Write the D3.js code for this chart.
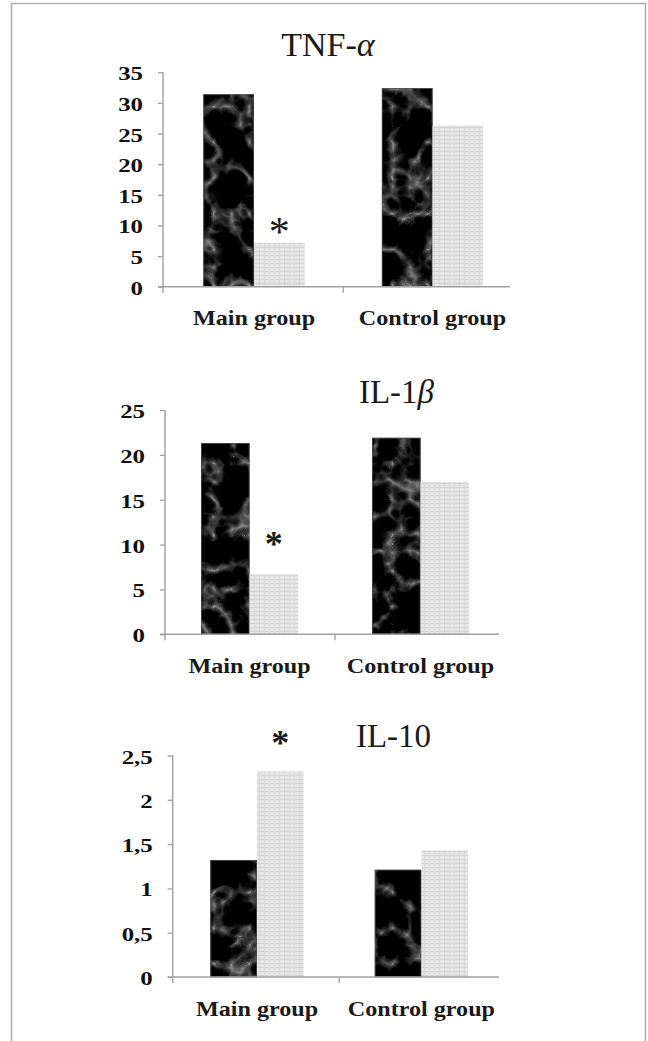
<!DOCTYPE html>
<html>
<head>
<meta charset="utf-8">
<script src="https://cdn.jsdelivr.net/npm/d3@7"></script>
<style>
  html, body { margin: 0; padding: 0; background: #fff; }
  svg { display: block; }
</style>
</head>
<body>
<svg id="chart" width="648" height="1041"></svg>
<script>
// ---- data ----
const groups = ["Main group", "Control group"];
const series = ["before", "after"];            // dark bar, light bar

const tnfBefore = [31.4, 32.4];
const tnfAfter  = [7.2, 26.3];
const tnfTicks  = [0, 5, 10, 15, 20, 25, 30, 35];
const tnfTickLabels = ["0", "5", "10", "15", "20", "25", "30", "35"];

const il1Before = [21.3, 21.9];
const il1After  = [6.7, 17.0];
const il1Ticks  = [0, 5, 10, 15, 20, 25];
const il1TickLabels = ["0", "5", "10", "15", "20", "25"];

const il10Before = [1.32, 1.21];
const il10After  = [2.32, 1.43];
const il10Ticks  = [0, 0.5, 1, 1.5, 2, 2.5];
const il10TickLabels = ["0", "0,5", "1", "1,5", "2", "2,5"];

// bar flagged as significant in each panel: [group, series]
const tnfMarked  = ["Main group", "after"];
const il1Marked  = ["Main group", "after"];
const il10Marked = ["Main group", "after"];

// ---- panel layout ----
const panels = [
  { title: ["TNF-", "α"], before: tnfBefore, after: tnfAfter, ticks: tnfTicks, labels: tnfTickLabels,
    marked: tnfMarked, max: 35, x0: 164.75, band: 178.5, yTop: 72.3, y0: 286.7,
    axisX: 163, axisEnd: 510, titleX: 328, titleY: 56, titleSize: 34,
    starGap: 14.5, starBold: false, starSize: 42 },
  { title: ["IL-1", "β"], before: il1Before, after: il1After, ticks: il1Ticks, labels: il1TickLabels,
    marked: il1Marked, max: 25, x0: 164, band: 171, yTop: 410, y0: 634.3,
    axisX: 165, axisEnd: 499, titleX: 396.5, titleY: 403, titleSize: 33,
    starGap: 33, starBold: true, starSize: 36 },
  { title: ["IL-10", ""], before: il10Before, after: il10After, ticks: il10Ticks, labels: il10TickLabels,
    marked: il10Marked, max: 2.5, x0: 174.8, band: 164.4, yTop: 755.5, y0: 977,
    axisX: 172.7, axisEnd: 499, titleX: 393.5, titleY: 746.7, titleSize: 33,
    starGap: 32, starBold: true, starSize: 36 }
];

const svg = d3.select("#chart");
const defs = svg.append("defs");

// dark marbled fill: thin grey veins on black
const marble = defs.append("filter").attr("id", "marble")
  .attr("x", 0).attr("y", 0).attr("width", 1).attr("height", 1)
  .attr("filterUnits", "objectBoundingBox").attr("primitiveUnits", "userSpaceOnUse");
marble.append("feTurbulence").attr("type", "turbulence").attr("baseFrequency", 0.028)
  .attr("numOctaves", 3).attr("seed", 5).attr("result", "noise");
marble.append("feColorMatrix").attr("in", "noise").attr("type", "matrix")
  .attr("values", "1 0 0 0 0  1 0 0 0 0  1 0 0 0 0  0 0 0 0 1").attr("result", "gray");
const ct = marble.append("feComponentTransfer").attr("in", "gray").attr("result", "veins");
["feFuncR", "feFuncG", "feFuncB"].forEach(f =>
  ct.append(f).attr("type", "table").attr("tableValues", "0.26 0.1 0.035 0.01 0 0 0 0 0 0 0 0 0 0"));
marble.append("feGaussianBlur").attr("in", "veins").attr("stdDeviation", 0.7).attr("result", "soft");
marble.append("feComposite").attr("in", "soft").attr("in2", "SourceAlpha").attr("operator", "in");

// light grid fill
const grid = defs.append("pattern").attr("id", "grid").attr("patternUnits", "userSpaceOnUse")
  .attr("width", 5).attr("height", 4);
grid.append("rect").attr("width", 5).attr("height", 4).attr("fill", "#e6e6e6");
grid.append("rect").attr("x", 0).attr("y", 3).attr("width", 5).attr("height", 1).attr("fill", "#d4d4d4");
grid.append("rect").attr("x", 4).attr("y", 0).attr("width", 1).attr("height", 4).attr("fill", "#d8d8d8");

// outer frame (open at the bottom)
svg.append("path").attr("d", "M11.5,1041 V3.5 H645.5 V1041")
  .attr("fill", "none").attr("stroke", "#b0b0b0").attr("stroke-width", 1.6);

const serif = "'Liberation Serif', 'Times New Roman', serif";
const axisColor = "#a0a0a0";

panels.forEach(p => {
  const g = svg.append("g");
  const x = d3.scaleBand().domain(groups).range([p.x0, p.x0 + 2 * p.band]);
  const half = x.bandwidth() * 0.2835;
  const xs = d3.scaleBand().domain(series).range([-half, half]);
  const y = d3.scaleLinear().domain([0, p.max]).range([p.y0, p.yTop]);
  const values = { before: p.before, after: p.after };

  // bars
  groups.forEach((grp, gi) => {
    series.forEach(s => {
      const v = values[s][gi];
      const bx = x(grp) + x.bandwidth() / 2 + xs(s);
      if (s === "before") {
        g.append("rect").attr("x", bx).attr("y", y(v))
          .attr("width", xs.bandwidth()).attr("height", y(0) - y(v))
          .attr("fill", "#000").attr("filter", "url(#marble)");
        g.append("rect").attr("x", bx + 0.4).attr("y", y(v) + 0.4)
          .attr("width", xs.bandwidth() - 0.8).attr("height", y(0) - y(v) - 0.4)
          .attr("fill", "none").attr("stroke", "#4a4a4a").attr("stroke-width", 0.8);
      } else {
        g.append("rect").attr("x", bx).attr("y", y(v))
          .attr("width", xs.bandwidth()).attr("height", y(0) - y(v))
          .attr("fill", "url(#grid)");
      }
    });
  });

  // y axis
  const yAxis = d3.axisLeft(y).tickValues(p.ticks).tickSize(5).tickSizeOuter(0)
    .tickFormat((d, i) => p.labels[i]);
  const ya = g.append("g").attr("transform", `translate(${p.axisX},0)`).call(yAxis);
  ya.select(".domain").remove();
  ya.selectAll(".tick line").attr("stroke", axisColor).attr("stroke-width", 1.3);
  ya.selectAll(".tick text")
    .attr("x", 0).attr("dy", null).attr("y", 7.5)
    .attr("transform", "translate(-20,0) scale(1.38,1)")
    .attr("font-family", serif).attr("font-weight", "bold").attr("font-size", 18)
    .attr("fill", "#111").attr("text-anchor", "end");
  g.append("line").attr("x1", p.axisX).attr("x2", p.axisX)
    .attr("y1", y(p.max)).attr("y2", y(0) + 6)
    .attr("stroke", axisColor).attr("stroke-width", 1.4);

  // x axis
  g.append("line").attr("x1", p.axisX - 5).attr("x2", p.axisEnd)
    .attr("y1", y(0)).attr("y2", y(0))
    .attr("stroke", axisColor).attr("stroke-width", 1.4);
  const boundary = x(groups[1]);
  g.append("line").attr("x1", boundary).attr("x2", boundary)
    .attr("y1", y(0)).attr("y2", y(0) + 6)
    .attr("stroke", axisColor).attr("stroke-width", 1.3);

  // category labels
  groups.forEach(grp => {
    const cx = x(grp) + x.bandwidth() / 2;
    g.append("text")
      .attr("transform", `translate(${cx},${y(0) + 38.5}) scale(1.15,1)`)
      .attr("text-anchor", "middle")
      .attr("font-family", serif).attr("font-weight", "bold").attr("font-size", 21)
      .attr("fill", "#1a1a1a").text(grp);
  });

  // title
  const t = g.append("text").attr("x", p.titleX).attr("y", p.titleY)
    .attr("text-anchor", "middle").attr("font-family", serif)
    .attr("font-size", p.titleSize).attr("fill", "#1a1a1a");
  t.append("tspan").text(p.title[0]);
  if (p.title[1]) t.append("tspan").attr("font-style", "italic").text(p.title[1]);

  // significance mark
  const [mg, ms] = p.marked;
  const mv = values[ms][groups.indexOf(mg)];
  const sx = x(mg) + x.bandwidth() / 2 + xs(ms) + xs.bandwidth() / 2;
  const sy = y(mv) - p.starGap;
  g.append("text").attr("x", sx).attr("y", sy + p.starSize * 0.42)
    .attr("text-anchor", "middle").attr("font-family", serif)
    .attr("font-weight", p.starBold ? "bold" : "normal")
    .attr("font-size", p.starSize).attr("fill", "#1a1a1a").text("*");
});
</script>
</body>
</html>
